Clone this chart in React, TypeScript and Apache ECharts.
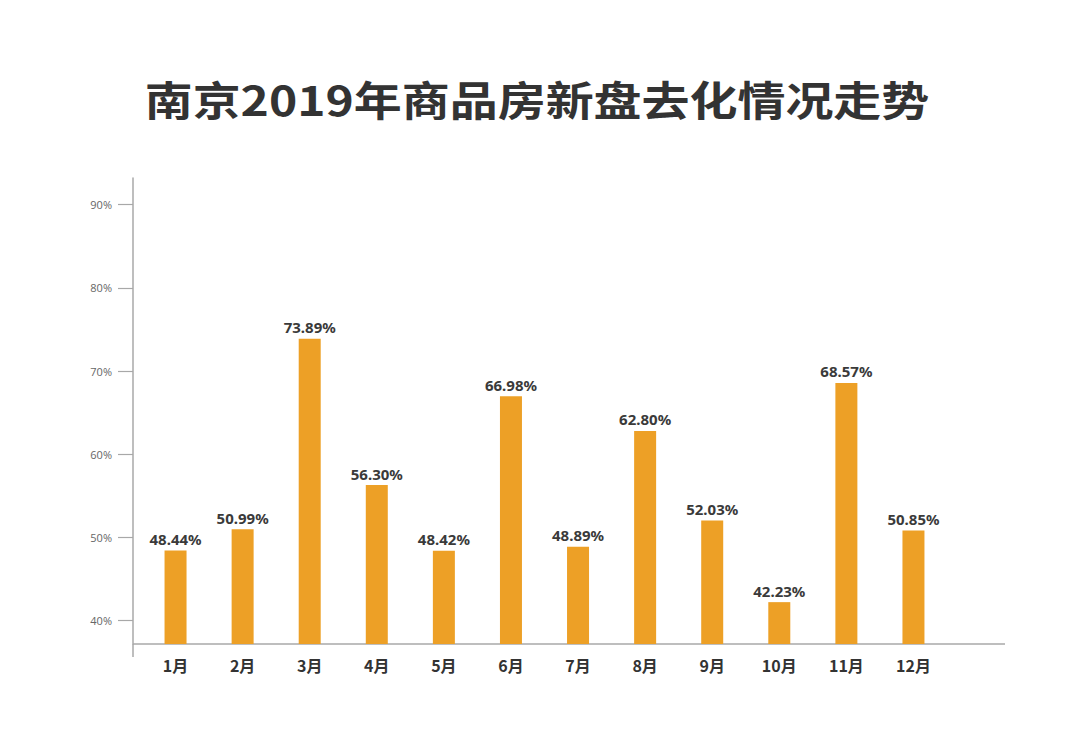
import React, { useEffect, useRef } from "react";
import * as echarts from "echarts";

const titleText = "南京2019年商品房新盘去化情况走势";
const months = ["1月", "2月", "3月", "4月", "5月", "6月", "7月", "8月", "9月", "10月", "11月", "12月"];
const rates = [48.44, 50.99, 73.89, 56.3, 48.42, 66.98, 48.89, 62.8, 52.03, 42.23, 68.57, 50.85];
const yTicks = [40, 50, 60, 70, 80, 90];

export default function App() {
  const ref = useRef<HTMLDivElement>(null);
  useEffect(() => {
    if (!ref.current) return;
    const chart = echarts.init(ref.current, null, { renderer: "svg" });
    const axisColor = "#a8a8a8";
    chart.setOption({
      animation: false,
      backgroundColor: "#ffffff",
      grid: { left: 142, right: 1080 - 947, top: 178, bottom: 731 - 644, containLabel: false },
      xAxis: {
        type: "category",
        data: months,
        axisLine: { show: false },
        axisTick: { show: false },
        axisLabel: {
          margin: 13,
          fontFamily: "Noto Sans CJK SC",
          fontWeight: "bold",
          fontSize: 16,
          color: "#333333",
        },
      },
      yAxis: {
        type: "value",
        min: 37.2,
        max: 93.2,
        offset: 9,
        splitLine: { show: false },
        axisLine: { show: true, lineStyle: { color: axisColor, width: 1.5 } },
        axisTick: {
          show: true,
          length: 15,
          customValues: yTicks,
          lineStyle: { color: axisColor, width: 1.2 },
        },
        axisLabel: {
          customValues: yTicks,
          margin: 21,
          fontFamily: "Open Sans",
          fontSize: 11,
          color: "#666666",
          formatter: (v: number) => `${Math.round(v)}%`,
        },
      },
      series: [
        {
          type: "bar",
          data: rates,
          barWidth: 22,
          itemStyle: { color: "#EDA026" },
          label: {
            show: true,
            position: "top",
            distance: 4,
            fontFamily: "Noto Sans",
            fontWeight: "bold",
            fontSize: 15,
            color: "#3a3a3a",
            formatter: (p: any) => `${p.value.toFixed(2)}%`,
          },
        },
      ],
      graphic: [
        {
          type: "text",
          x: 537,
          y: 98,
          scaleX: 1.17,
          style: {
            text: titleText,
            fontFamily: "Noto Sans CJK SC",
            fontWeight: "bold",
            fontSize: 41,
            fill: "#333333",
            textAlign: "center",
            textVerticalAlign: "middle",
          },
        },
        {
          type: "line",
          shape: { x1: 133, y1: 644, x2: 1005, y2: 644 },
          style: { stroke: axisColor, lineWidth: 1.5 },
        },
        {
          type: "line",
          shape: { x1: 133, y1: 644, x2: 133, y2: 657 },
          style: { stroke: axisColor, lineWidth: 1.5 },
        },
      ],
    });
    return () => chart.dispose();
  }, []);
  return (
    <div
      ref={ref}
      style={{ position: "absolute", left: 0, top: 0, width: 1080, height: 731 }}
    />
  );
}
